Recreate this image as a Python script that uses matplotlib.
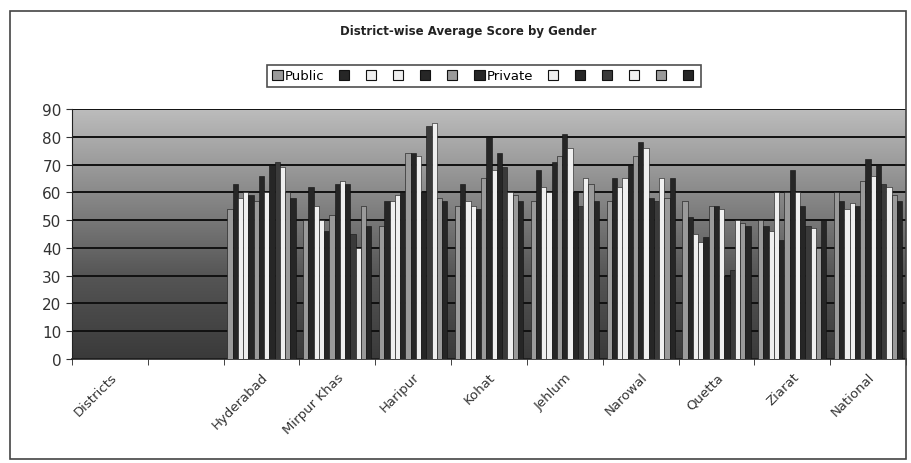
import numpy as np
import matplotlib
matplotlib.use("Agg")
import matplotlib.pyplot as plt
from matplotlib.patches import Patch, Rectangle

categories = ["Districts", "", "Hyderabad", "Mirpur Khas", "Haripur", "Kohat",
              "Jehlum", "Narowal", "Quetta", "Ziarat", "National"]
series_names = ["Public", "", "", "", "", "", "Private", "", "", "", "", "", ""]

nan = np.nan
districts = [nan] * 13
blank = [nan] * 13
hyderabad = [54, 63, 58, 60, 59, 57, 66, 60, 70, 71, 69, 60, 58]
mirpur_khas = [50, 62, 55, 50, 46, 52, 63, 64, 63, 45, 40, 55, 48]
haripur = [48, 57, 57, 59, 60, 74, 74, 73, 60, 84, 85, 58, 57]
kohat = [55, 63, 57, 55, 54, 65, 80, 68, 74, 69, 60, 59, 57]
jehlum = [57, 68, 62, 60, 71, 73, 81, 76, 60, 55, 65, 63, 57]
narowal = [57, 65, 62, 65, 70, 73, 78, 76, 58, 57, 65, 58, 65]
quetta = [57, 51, 45, 42, 44, 55, 55, 54, 30, 32, 50, 49, 48]
ziarat = [50, 48, 46, 60, 43, 60, 68, 60, 55, 48, 47, 40, 50]
national = [60, 57, 54, 56, 55, 64, 72, 66, 70, 63, 62, 59, 57]

table = np.array([districts, blank, hyderabad, mirpur_khas, haripur, kohat,
                  jehlum, narowal, quetta, ziarat, national], dtype=float)

DARK, WHITE, HATCH = "#262626", "#efefef", "#9a9a9a"
series_colors = [HATCH, DARK, WHITE, WHITE, DARK, HATCH, DARK,
                 WHITE, DARK, "#3a3a3a", WHITE, HATCH, DARK]

fig = plt.figure(figsize=(9.11, 4.64), dpi=100)
fig.patch.set_facecolor("white")

# outer frame
fig.patches.append(Rectangle((10 / 911, 4 / 464), 896 / 911, 448 / 464,
                             transform=fig.transFigure, fill=False,
                             edgecolor="#444444", linewidth=1.2))

ax = fig.add_axes([72 / 911, 1 - 360 / 464, (906 - 72) / 911, 250 / 464])

n_cat = len(categories)
n_ser = len(series_names)
x = np.arange(n_cat)
group_w = 0.9
bw = group_w / n_ser

# gradient background
grad = np.linspace(0, 1, 256).reshape(-1, 1)
cmap = matplotlib.colors.LinearSegmentedColormap.from_list(
    "bg", ["#3a3a3a", "#555555", "#8a8a8a", "#bcbcbc"])
ax.imshow(grad, extent=(-0.5, n_cat - 0.5, 0, 90), origin="lower",
          aspect="auto", cmap=cmap, zorder=0)

for i in range(n_ser):
    offs = -group_w / 2 + bw * (i + 0.5)
    ax.bar(x + offs, table[:, i], width=bw, color=series_colors[i],
           edgecolor="#111111", linewidth=0.4, zorder=3)

ax.set_ylim(0, 90)
ax.set_xlim(-0.5, n_cat - 0.5)
ax.set_yticks(np.arange(0, 91, 10))
ax.yaxis.grid(True, color="#111111", linewidth=1.4, zorder=1)
ax.set_axisbelow(True)
ax.tick_params(axis="y", labelsize=11, colors="#333333", length=4)

ax.set_xticks(x)
ax.set_xticklabels(categories, rotation=45, ha="right",
                   rotation_mode="anchor", fontsize=9.5, color="#333333")
ax.tick_params(axis="x", length=0, pad=8)
ax.set_xticks(np.arange(-0.5, n_cat, 1), minor=True)
ax.tick_params(axis="x", which="minor", length=4, color="#222222")

for s in ["top", "right"]:
    ax.spines[s].set_visible(False)
ax.spines["left"].set_color("#222222")
ax.spines["bottom"].set_color("#222222")
ax.spines["bottom"].set_linewidth(1.2)

fig.text(468 / 911, 1 - 32 / 464, "District-wise Average Score by Gender",
         ha="center", va="center", fontsize=8.5, fontweight="bold", color="#222222")

handles = [Patch(facecolor=c, edgecolor="#111111", linewidth=0.8) for c in series_colors]
leg = fig.legend(handles, series_names, loc="center",
                 bbox_to_anchor=(484 / 911, 1 - 77 / 464), ncol=n_ser,
                 fontsize=9.5, handlelength=0.8, handleheight=0.8,
                 handletextpad=0.2, columnspacing=1.05, frameon=True,
                 fancybox=False, edgecolor="#222222", borderpad=0.35)
leg.get_frame().set_linewidth(1.2)

fig.savefig("out.png", dpi=100)
